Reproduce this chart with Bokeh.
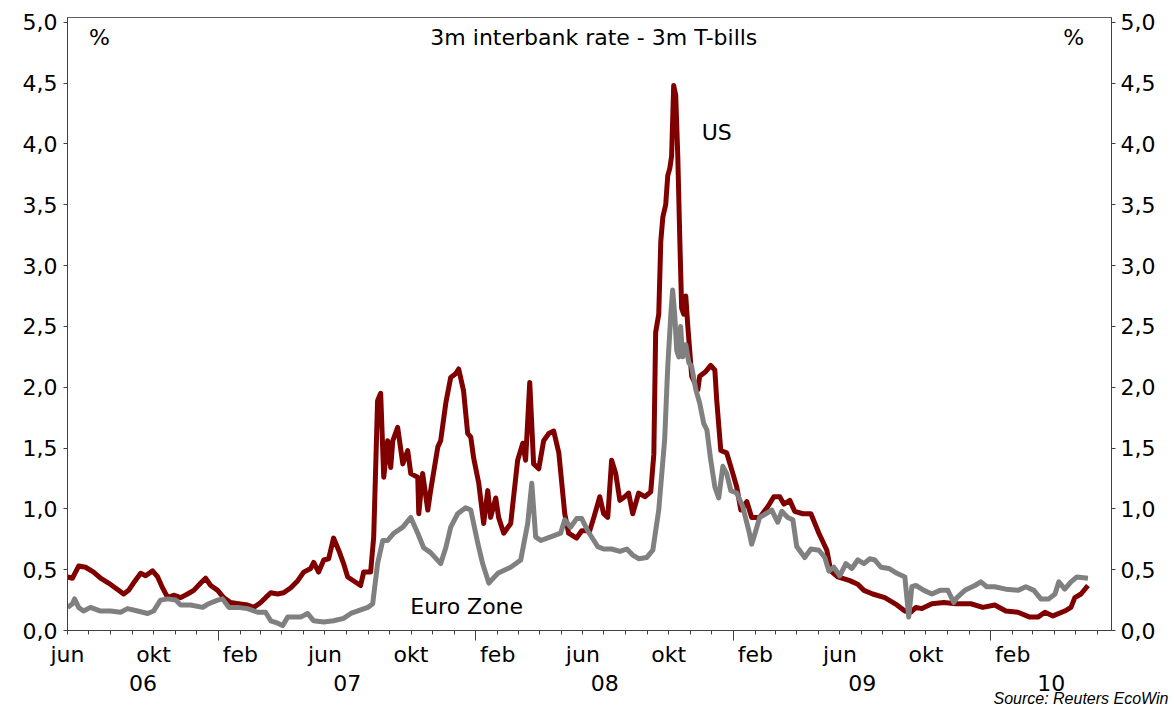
from datetime import date
from bokeh.plotting import figure
from bokeh.models import Range1d, LinearAxis, FixedTicker, CustomJSTickFormatter, Label, Title
from bokeh.embed import file_html
from bokeh.resources import INLINE

# ---------------- data (decimal years, percent) ----------------
us_t = [2006.414, 2006.433, 2006.457, 2006.484, 2006.515, 2006.542, 2006.573, 2006.600, 2006.632, 2006.651,
        2006.670, 2006.698, 2006.717, 2006.744, 2006.764, 2006.783, 2006.803, 2006.826, 2006.853, 2006.880,
        2006.904, 2006.931, 2006.950, 2006.970, 2006.997, 2007.020, 2007.047, 2007.078, 2007.113, 2007.137,
        2007.164, 2007.183, 2007.203, 2007.230, 2007.253, 2007.280, 2007.308, 2007.331, 2007.358, 2007.370,
        2007.389, 2007.409, 2007.428, 2007.447, 2007.467, 2007.486, 2007.502, 2007.552, 2007.564, 2007.591,
        2007.603, 2007.618, 2007.630, 2007.642, 2007.657, 2007.669, 2007.677, 2007.696, 2007.716, 2007.735,
        2007.747, 2007.774, 2007.778, 2007.793, 2007.813, 2007.824, 2007.852, 2007.863, 2007.883, 2007.902,
        2007.921, 2007.933, 2007.952, 2007.968, 2007.980, 2007.991, 2008.011, 2008.030, 2008.046, 2008.057,
        2008.077, 2008.088, 2008.108, 2008.135, 2008.162, 2008.182, 2008.193, 2008.209, 2008.224, 2008.244,
        2008.263, 2008.283, 2008.302, 2008.322, 2008.345, 2008.360, 2008.391, 2008.411, 2008.442, 2008.458,
        2008.481, 2008.496, 2008.512, 2008.527, 2008.543, 2008.559, 2008.578, 2008.593, 2008.609, 2008.632,
        2008.656, 2008.679, 2008.691, 2008.698, 2008.710, 2008.718, 2008.726, 2008.737, 2008.745, 2008.753,
        2008.760, 2008.768, 2008.776, 2008.784, 2008.792, 2008.799, 2008.807, 2008.815, 2008.823, 2008.830,
        2008.838, 2008.862, 2008.869, 2008.893, 2008.912, 2008.928, 2008.935, 2008.951, 2008.974, 2008.998,
        2009.013, 2009.029, 2009.052, 2009.071, 2009.102, 2009.134, 2009.157, 2009.180, 2009.196, 2009.219,
        2009.238, 2009.270, 2009.301, 2009.332, 2009.363, 2009.378, 2009.406, 2009.452, 2009.483, 2009.507,
        2009.541, 2009.588, 2009.635, 2009.666, 2009.689, 2009.709, 2009.732, 2009.771, 2009.817, 2009.864,
        2009.922, 2009.969, 2010.015, 2010.058, 2010.105, 2010.151, 2010.183, 2010.210, 2010.241, 2010.287,
        2010.311, 2010.326, 2010.350, 2010.377]
us_v = [0.44, 0.43, 0.53, 0.52, 0.48, 0.43, 0.39, 0.35, 0.30, 0.33,
        0.39, 0.47, 0.45, 0.49, 0.44, 0.35, 0.27, 0.29, 0.27, 0.30,
        0.33, 0.39, 0.43, 0.37, 0.33, 0.27, 0.23, 0.22, 0.21, 0.19,
        0.23, 0.27, 0.31, 0.30, 0.31, 0.35, 0.41, 0.48, 0.51, 0.56,
        0.48, 0.58, 0.59, 0.76, 0.66, 0.55, 0.44, 0.37, 0.48, 0.48,
        0.77, 1.89, 1.95, 1.26, 1.56, 1.34, 1.56, 1.67, 1.37, 1.48,
        1.29, 1.26, 0.96, 1.29, 0.99, 1.15, 1.51, 1.56, 1.87, 2.08,
        2.11, 2.15, 1.97, 1.62, 1.59, 1.42, 1.21, 0.88, 1.15, 0.93,
        1.09, 0.93, 0.80, 0.88, 1.40, 1.54, 1.40, 2.04, 1.37, 1.33,
        1.56, 1.62, 1.64, 1.46, 0.96, 0.80, 0.76, 0.82, 0.82, 0.93,
        1.10, 0.96, 0.93, 1.40, 1.29, 1.07, 1.10, 1.13, 0.96, 1.13,
        1.10, 1.14, 1.45, 2.45, 2.60, 3.20, 3.40, 3.50, 3.74, 3.80,
        3.90, 4.48, 4.40, 3.90, 3.20, 2.65, 2.60, 2.75, 2.50, 2.31,
        2.09, 1.98, 2.09, 2.13, 2.18, 2.14, 1.90, 1.48, 1.46, 1.29,
        1.18, 0.99, 1.06, 0.93, 0.93, 1.02, 1.10, 1.10, 1.04, 1.07,
        0.98, 0.96, 0.96, 0.80, 0.66, 0.49, 0.44, 0.41, 0.38, 0.33,
        0.30, 0.27, 0.21, 0.16, 0.15, 0.19, 0.18, 0.22, 0.23, 0.22,
        0.22, 0.19, 0.21, 0.16, 0.15, 0.11, 0.11, 0.15, 0.12, 0.16,
        0.19, 0.27, 0.30, 0.37]

ez_t = [2006.414, 2006.433, 2006.441, 2006.457, 2006.476, 2006.503, 2006.542, 2006.581, 2006.620, 2006.647,
        2006.686, 2006.725, 2006.748, 2006.775, 2006.803, 2006.834, 2006.853, 2006.892, 2006.939, 2006.962,
        2006.997, 2007.016, 2007.040, 2007.075, 2007.113, 2007.152, 2007.183, 2007.203, 2007.230, 2007.249,
        2007.269, 2007.292, 2007.319, 2007.346, 2007.370, 2007.409, 2007.447, 2007.486, 2007.514, 2007.580,
        2007.599, 2007.618, 2007.638, 2007.657, 2007.681, 2007.716, 2007.747, 2007.774, 2007.797, 2007.824,
        2007.863, 2007.883, 2007.902, 2007.929, 2007.960, 2007.980, 2008.007, 2008.026, 2008.050, 2008.085,
        2008.135, 2008.174, 2008.201, 2008.217, 2008.232, 2008.252, 2008.290, 2008.329, 2008.345, 2008.368,
        2008.391, 2008.411, 2008.434, 2008.458, 2008.473, 2008.496, 2008.527, 2008.559, 2008.586, 2008.609,
        2008.632, 2008.663, 2008.687, 2008.710, 2008.733, 2008.745, 2008.757, 2008.764, 2008.772, 2008.780,
        2008.788, 2008.795, 2008.803, 2008.815, 2008.827, 2008.838, 2008.854, 2008.869, 2008.885, 2008.897,
        2008.912, 2008.928, 2008.943, 2008.959, 2008.974, 2008.990, 2009.013, 2009.036, 2009.060, 2009.071,
        2009.087, 2009.102, 2009.126, 2009.149, 2009.172, 2009.188, 2009.211, 2009.231, 2009.246, 2009.277,
        2009.301, 2009.332, 2009.355, 2009.371, 2009.390, 2009.413, 2009.437, 2009.460, 2009.483, 2009.507,
        2009.530, 2009.549, 2009.573, 2009.604, 2009.635, 2009.666, 2009.681, 2009.693, 2009.709, 2009.740,
        2009.771, 2009.802, 2009.833, 2009.856, 2009.868, 2009.899, 2009.938, 2009.961, 2009.984, 2010.015,
        2010.058, 2010.105, 2010.136, 2010.167, 2010.194, 2010.225, 2010.249, 2010.264, 2010.287, 2010.311,
        2010.334, 2010.377]
ez_v = [0.19, 0.22, 0.26, 0.19, 0.16, 0.19, 0.16, 0.16, 0.15, 0.18,
        0.16, 0.14, 0.16, 0.25, 0.26, 0.25, 0.21, 0.21, 0.19, 0.22,
        0.25, 0.26, 0.19, 0.19, 0.18, 0.15, 0.15, 0.08, 0.06, 0.04,
        0.11, 0.11, 0.11, 0.14, 0.08, 0.07, 0.08, 0.10, 0.14, 0.19,
        0.22, 0.55, 0.74, 0.74, 0.80, 0.85, 0.93, 0.80, 0.68, 0.64,
        0.55, 0.68, 0.85, 0.96, 1.01, 0.99, 0.72, 0.55, 0.39, 0.47,
        0.52, 0.58, 0.88, 1.21, 0.77, 0.74, 0.77, 0.80, 0.91, 0.85,
        0.92, 0.92, 0.82, 0.74, 0.69, 0.67, 0.67, 0.65, 0.67, 0.62,
        0.59, 0.60, 0.66, 0.99, 1.57, 2.17, 2.60, 2.80, 2.60, 2.30,
        2.25, 2.50, 2.25, 2.35, 2.20, 2.17, 1.98, 1.87, 1.70, 1.65,
        1.40, 1.18, 1.09, 1.35, 1.29, 1.15, 1.13, 1.02, 0.82, 0.71,
        0.82, 0.93, 0.96, 0.99, 0.89, 0.98, 0.93, 0.91, 0.69, 0.60,
        0.67, 0.66, 0.60, 0.49, 0.52, 0.45, 0.55, 0.51, 0.58, 0.55,
        0.59, 0.58, 0.52, 0.51, 0.47, 0.44, 0.11, 0.36, 0.37, 0.33,
        0.30, 0.33, 0.33, 0.23, 0.27, 0.33, 0.37, 0.40, 0.36, 0.36,
        0.34, 0.33, 0.36, 0.33, 0.26, 0.26, 0.30, 0.40, 0.34, 0.40,
        0.44, 0.43]

MONTH_NAMES = ["jan", "feb", "mar", "apr", "mai", "jun", "jul", "aug", "sep", "okt", "nov", "des"]
LABEL_MONTHS = [6, 10, 2]
LAST_LABELED = (2010, 2)
YEARS = [2006, 2007, 2008, 2009, 2010]
YEAR_LABELS = ["06", "07", "08", "09", "10"]
Y_TICKS = [0.0, 0.5, 1.0, 1.5, 2.0, 2.5, 3.0, 3.5, 4.0, 4.5, 5.0]

TITLE = "3m interbank rate - 3m T-bills"
SOURCE = "Source: Reuters EcoWin"


def dec_year(y, m, d=1):
    start = date(y, 1, 1)
    nxt = date(y + 1, 1, 1)
    return y + (date(y, m, d) - start).days / (nxt - start).days


X_START = dec_year(2006, 6, 1)
X_END = dec_year(2010, 6, 21)

# month ticks
month_ticks, month_tick_labels, jan_ticks = [], [], []
y, m = 2006, 6
while (y, m) <= (2010, 6):
    t = dec_year(y, m)
    if m == 1:
        jan_ticks.append(t)
    else:
        month_ticks.append(t)
        show = m in LABEL_MONTHS and (y, m) <= LAST_LABELED
        month_tick_labels.append(MONTH_NAMES[m - 1] if show else "")
    m += 1
    if m > 12:
        m = 1
        y += 1

year_mids = [(max(yr, X_START) + min(yr + 1, X_END)) / 2 for yr in YEARS]

FONT = "DejaVu Sans"
TICK_SIZE = "22px"
AX_COLOR = "#404040"

p = figure(width=1174, height=705, x_range=Range1d(X_START, X_END), y_range=Range1d(0, 5.04),
           output_backend="svg", toolbar_location=None, title=None,
           min_border_left=67, min_border_right=63, min_border_top=17, min_border_bottom=75)
p.xgrid.visible = False
p.ygrid.visible = False
p.outline_line_color = "#606060"
p.outline_line_width = 1
p.background_fill_color = "white"
p.border_fill_color = "white"

nearest_code = """
let best = 0;
for (let i = 1; i < tv.length; i++) {
  if (Math.abs(tv[i] - tick) < Math.abs(tv[best] - tick)) best = i;
}
return tl[best];
"""


def style_axis(ax):
    ax.axis_line_color = AX_COLOR
    ax.axis_line_width = 1
    ax.major_tick_line_color = AX_COLOR
    ax.minor_tick_line_color = AX_COLOR
    ax.major_label_text_font = FONT
    ax.major_label_text_font_size = TICK_SIZE
    ax.major_label_text_color = "#000000"


# bottom axis 1: month ticks + long Jan ticks
xa = p.xaxis[0]
style_axis(xa)
xa.ticker = FixedTicker(ticks=month_ticks, minor_ticks=jan_ticks)
xa.formatter = CustomJSTickFormatter(args=dict(tv=month_ticks, tl=month_tick_labels), code=nearest_code)
xa.major_tick_in = 0
xa.major_tick_out = 4
xa.minor_tick_in = 0
xa.minor_tick_out = 10
xa.major_label_standoff = 1

# bottom axis 2: year labels
xa2 = LinearAxis(ticker=FixedTicker(ticks=year_mids),
                 formatter=CustomJSTickFormatter(args=dict(tv=year_mids, tl=YEAR_LABELS), code=nearest_code))
style_axis(xa2)
xa2.axis_line_color = None
xa2.major_tick_line_color = None
xa2.major_tick_in = 0
xa2.major_tick_out = 0
xa2.major_label_standoff = 5
p.add_layout(xa2, "below")

# source note under the axes, right aligned
src = Title(text=SOURCE, align="right", text_font="Liberation Sans", text_font_style="italic",
            text_font_size="16px", text_color="#000000", standoff=-12, offset=-57)
p.add_layout(src, "below")

yfmt = "return tick.toFixed(1).replace('.', ',');"
ya = p.yaxis[0]
style_axis(ya)
ya.ticker = FixedTicker(ticks=Y_TICKS)
ya.formatter = CustomJSTickFormatter(code=yfmt)
ya.major_tick_in = 0
ya.major_tick_out = 4
ya.major_label_standoff = 6

ya2 = LinearAxis(ticker=FixedTicker(ticks=Y_TICKS), formatter=CustomJSTickFormatter(code=yfmt))
style_axis(ya2)
ya2.major_tick_in = 0
ya2.major_tick_out = 4
ya2.major_label_standoff = 5
p.add_layout(ya2, "right")

# series
p.line(us_t, us_v, line_color="#800000", line_width=5, line_join="round")
p.line(ez_t, ez_v, line_color="#808080", line_width=5, line_join="round")

# annotations
def lab(text, x, y, size="22px", align="center", **kw):
    p.add_layout(Label(x=x, y=y, text=text, text_font=FONT, text_font_size=size, text_color="#000000",
                       text_align=align, text_baseline="middle", **kw))

lab(TITLE, 2008.458, 4.877)
lab("%", 2006.538, 4.877)
lab("%", 2010.322, 4.877)
lab("US", 2008.935, 4.095)
lab("Euro Zone", 2007.964, 0.197)

open("out.html", "w").write(file_html(p, INLINE))
